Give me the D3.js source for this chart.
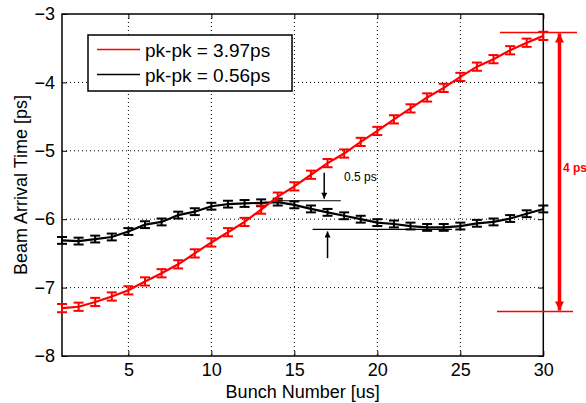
<!DOCTYPE html>
<html>
<head>
<meta charset="utf-8">
<script src="https://cdn.jsdelivr.net/npm/d3@7"></script>
<style>
  body { margin: 0; background: #fff; }
  text { font-family: "Liberation Sans", Arial, sans-serif; }
</style>
</head>
<body>
<div id="chart-area"></div>
<script>
// bunch index 1..30
var bunches = [1, 2, 3, 4, 5, 6, 7, 8, 9, 10, 11, 12, 13, 14, 15,
    16, 17, 18, 19, 20, 21, 22, 23, 24, 25, 26, 27, 28, 29, 30];

var redValues = [-7.30, -7.28, -7.21, -7.13, -7.04, -6.91, -6.79, -6.66, -6.50, -6.34,
    -6.19, -6.04, -5.86, -5.67, -5.52, -5.35, -5.18, -5.04, -4.87, -4.71,
    -4.54, -4.38, -4.22, -4.08, -3.92, -3.77, -3.66, -3.53, -3.42, -3.32];
var redErr = [0.06, 0.06, 0.06, 0.06, 0.06, 0.06, 0.06, 0.06, 0.06, 0.06,
    0.06, 0.06, 0.06, 0.06, 0.06, 0.06, 0.06, 0.06, 0.06, 0.06,
    0.06, 0.06, 0.06, 0.06, 0.06, 0.06, 0.06, 0.06, 0.06, 0.06];

var blackValues = [-6.31, -6.32, -6.29, -6.26, -6.18, -6.08, -6.04, -5.94, -5.89, -5.81,
    -5.78, -5.77, -5.76, -5.75, -5.79, -5.85, -5.90, -5.95, -6.00, -6.05,
    -6.07, -6.10, -6.12, -6.12, -6.10, -6.06, -6.04, -5.99, -5.92, -5.85];
var blackErr = [0.05, 0.05, 0.05, 0.05, 0.05, 0.05, 0.05, 0.05, 0.05, 0.05,
    0.05, 0.05, 0.05, 0.05, 0.05, 0.05, 0.05, 0.05, 0.05, 0.05,
    0.05, 0.05, 0.05, 0.05, 0.05, 0.05, 0.05, 0.05, 0.05, 0.05];

var legendLabels = ["pk-pk = 3.97ps", "pk-pk = 0.56ps"];
var xTicks = [5, 10, 15, 20, 25, 30];
var yTicks = [-8, -7, -6, -5, -4, -3];

var dims = {
    width: 586,
    height: 403,
    left: 62,
    right: 543.3,
    top: 14,
    bottom: 356
};

var x = d3.scaleLinear().domain([1, 30]).range([dims.left, dims.right]);
var y = d3.scaleLinear().domain([-8, -3]).range([dims.bottom, dims.top]);

var svg = d3.select("#chart-area")
    .append("svg")
    .attr("width", dims.width)
    .attr("height", dims.height);

// dotted grid
var grid = svg.append("g").attr("id", "grid");
grid.selectAll(".vgrid")
    .data(xTicks.filter(function (t) { return t < 30; }))
    .enter().append("line")
    .attr("x1", function (d) { return x(d); })
    .attr("x2", function (d) { return x(d); })
    .attr("y1", dims.top)
    .attr("y2", dims.bottom)
    .attr("stroke", "black")
    .attr("stroke-width", 1)
    .attr("stroke-dasharray", "1,3");
grid.selectAll(".hgrid")
    .data(yTicks.filter(function (t) { return t > -8 && t < -3; }))
    .enter().append("line")
    .attr("x1", dims.left)
    .attr("x2", dims.right)
    .attr("y1", function (d) { return y(d); })
    .attr("y2", function (d) { return y(d); })
    .attr("stroke", "black")
    .attr("stroke-width", 1)
    .attr("stroke-dasharray", "1,3");

// axes, MATLAB style: ticks inward on all four sides
var tickLen = 5;
var xAxisBottom = d3.axisBottom(x).tickValues(xTicks).tickSize(-tickLen).tickPadding(7);
var xAxisTop = d3.axisTop(x).tickValues(xTicks).tickSize(-tickLen).tickFormat("");
var yAxisLeft = d3.axisLeft(y).tickValues(yTicks).tickSize(-tickLen).tickPadding(7)
    .tickFormat(d3.format("d"));
var yAxisRight = d3.axisRight(y).tickValues(yTicks).tickSize(-tickLen).tickFormat("");

function styleAxis(g) {
    g.select(".domain").remove();
    g.selectAll(".tick line").attr("stroke", "black").attr("stroke-width", 1);
    g.selectAll(".tick text")
        .attr("fill", "black")
        .style("font-size", "18px")
        .style("font-family", "'Liberation Sans', Arial, sans-serif");
}

svg.append("g").attr("transform", "translate(0," + dims.bottom + ")").call(xAxisBottom).call(styleAxis);
svg.append("g").attr("transform", "translate(0," + dims.top + ")").call(xAxisTop).call(styleAxis);
svg.append("g").attr("transform", "translate(" + dims.left + ",0)").call(yAxisLeft).call(styleAxis);
svg.append("g").attr("transform", "translate(" + dims.right + ",0)").call(yAxisRight).call(styleAxis);

svg.append("rect")
    .attr("x", dims.left)
    .attr("y", dims.top)
    .attr("width", dims.right - dims.left)
    .attr("height", dims.bottom - dims.top)
    .attr("fill", "none")
    .attr("stroke", "black")
    .attr("stroke-width", 1.5);

// axis labels
svg.append("text")
    .attr("x", (dims.left + dims.right) / 2)
    .attr("y", 398)
    .attr("text-anchor", "middle")
    .style("font-size", "18px")
    .text("Bunch Number [us]");
svg.append("text")
    .attr("transform", "translate(27," + (dims.top + dims.bottom) / 2 + ") rotate(-90)")
    .attr("text-anchor", "middle")
    .style("font-size", "18px")
    .text("Beam Arrival Time [ps]");

// series with error bars
function drawSeries(values, errs, color, capHalf) {
    var g = svg.append("g");
    var pts = bunches.map(function (b, i) {
        return { b: b, v: values[i], e: errs[i] };
    });
    g.append("path")
        .datum(pts)
        .attr("fill", "none")
        .attr("stroke", color)
        .attr("stroke-width", 2.2)
        .attr("d", d3.line()
            .x(function (d) { return x(d.b); })
            .y(function (d) { return y(d.v); }));
    var bars = g.selectAll(".err").data(pts).enter().append("g");
    bars.append("line")
        .attr("x1", function (d) { return x(d.b); })
        .attr("x2", function (d) { return x(d.b); })
        .attr("y1", function (d) { return y(d.v - d.e); })
        .attr("y2", function (d) { return y(d.v + d.e); })
        .attr("stroke", color)
        .attr("stroke-width", 2);
    [-1, 1].forEach(function (s) {
        bars.append("line")
            .attr("x1", function (d) { return x(d.b) - capHalf; })
            .attr("x2", function (d) { return x(d.b) + capHalf; })
            .attr("y1", function (d) { return y(d.v + s * d.e); })
            .attr("y2", function (d) { return y(d.v + s * d.e); })
            .attr("stroke", color)
            .attr("stroke-width", 2);
    });
}

drawSeries(blackValues, blackErr, "black", 5);
drawSeries(redValues, redErr, "red", 5);

// legend
var legend = svg.append("g");
legend.append("rect")
    .attr("x", 88)
    .attr("y", 35)
    .attr("width", 204)
    .attr("height", 56)
    .attr("fill", "white")
    .attr("stroke", "black")
    .attr("stroke-width", 1.5);
var legendColors = ["red", "black"];
legendLabels.forEach(function (label, i) {
    var ly = 49.5 + i * 25;
    legend.append("line")
        .attr("x1", 97).attr("x2", 140)
        .attr("y1", ly).attr("y2", ly)
        .attr("stroke", legendColors[i])
        .attr("stroke-width", 1.5);
    legend.append("text")
        .attr("x", 145)
        .attr("y", ly + 7)
        .style("font-size", "19px")
        .text(label);
});

// annotations
var defs = svg.append("defs");
function marker(id, color, w, h) {
    defs.append("marker")
        .attr("id", id)
        .attr("viewBox", "0 0 10 10")
        .attr("refX", 10).attr("refY", 5)
        .attr("markerUnits", "userSpaceOnUse")
        .attr("markerWidth", h).attr("markerHeight", w)
        .attr("orient", "auto-start-reverse")
        .append("path")
        .attr("d", "M0,0 L10,5 L0,10 Z")
        .attr("fill", color);
}
marker("arrowBlack", "black", 6, 9);
marker("arrowRed", "red", 9, 12);

// 0.5 ps annotation
var halfPs = { top: -5.73, bottom: -6.15 };
svg.append("line")
    .attr("x1", x(14)).attr("x2", x(17.8))
    .attr("y1", y(halfPs.top)).attr("y2", y(halfPs.top))
    .attr("stroke", "black").attr("stroke-width", 1.2);
svg.append("line")
    .attr("x1", x(16.1)).attr("x2", x(24.5))
    .attr("y1", y(halfPs.bottom)).attr("y2", y(halfPs.bottom))
    .attr("stroke", "black").attr("stroke-width", 1.2);
svg.append("line")
    .attr("x1", x(16.8)).attr("x2", x(16.8))
    .attr("y1", y(-5.32)).attr("y2", y(halfPs.top) - 2)
    .attr("stroke", "black").attr("stroke-width", 1.5)
    .attr("marker-end", "url(#arrowBlack)");
svg.append("line")
    .attr("x1", x(17)).attr("x2", x(17))
    .attr("y1", y(-6.57)).attr("y2", y(halfPs.bottom) + 2)
    .attr("stroke", "black").attr("stroke-width", 1.5)
    .attr("marker-end", "url(#arrowBlack)");
svg.append("text")
    .attr("x", 344)
    .attr("y", 181)
    .style("font-size", "12px")
    .text("0.5 ps");

// 4 ps annotation
var fourPs = { top: -3.27, bottom: -7.35 };
svg.append("line")
    .attr("x1", 500).attr("x2", 577)
    .attr("y1", y(fourPs.top)).attr("y2", y(fourPs.top))
    .attr("stroke", "red").attr("stroke-width", 1.5);
svg.append("line")
    .attr("x1", 497).attr("x2", 573)
    .attr("y1", y(fourPs.bottom)).attr("y2", y(fourPs.bottom))
    .attr("stroke", "red").attr("stroke-width", 1.5);
svg.append("line")
    .attr("x1", 559.5).attr("x2", 559.5)
    .attr("y1", y(fourPs.top) + 1).attr("y2", y(fourPs.bottom) - 1)
    .attr("stroke", "red").attr("stroke-width", 3.5)
    .attr("marker-start", "url(#arrowRed)")
    .attr("marker-end", "url(#arrowRed)");
svg.append("text")
    .attr("x", 563)
    .attr("y", 172)
    .attr("fill", "red")
    .style("font-size", "12px")
    .style("font-weight", "bold")
    .text("4 ps");
</script>
</body>
</html>
